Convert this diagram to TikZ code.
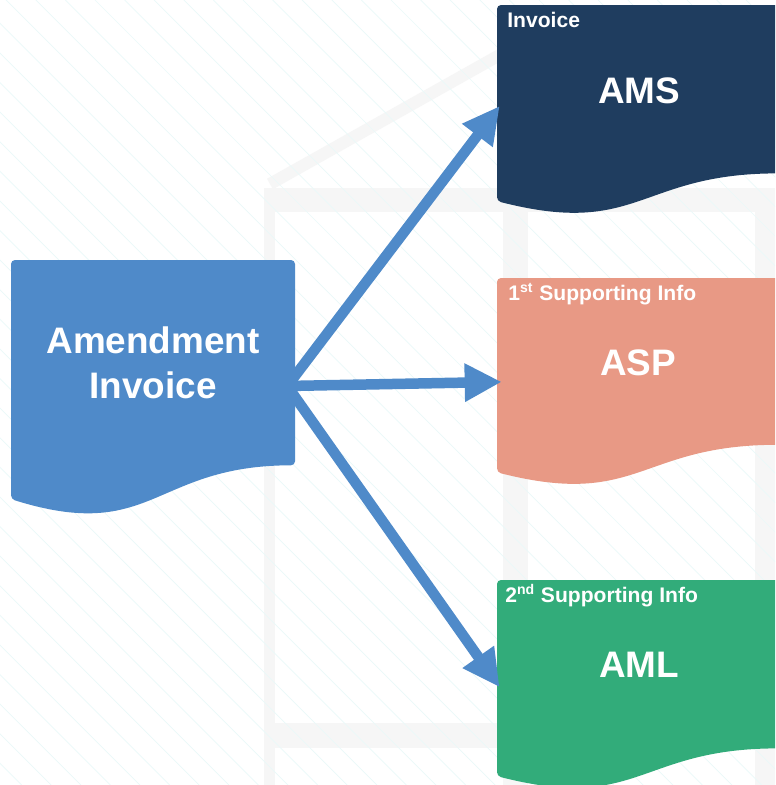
\documentclass[tikz,border=0pt]{standalone}
\usepackage{fontspec}
\setmainfont{Liberation Sans}
\usetikzlibrary{arrows.meta}
\usetikzlibrary{calc}

\definecolor{amendblue}{RGB}{79,138,201}
\definecolor{amsnavy}{RGB}{31,61,95}
\definecolor{aspsalmon}{RGB}{232,153,133}
\definecolor{amlgreen}{RGB}{50,172,122}
\definecolor{framegray}{RGB}{246,246,246}
\definecolor{hatchcyan}{RGB}{234,249,249}

\begin{document}
\begin{tikzpicture}[x=0.02cm,y=-0.02cm,
  flow/.style={line width=0.21cm,draw=amendblue,-{Triangle[length=0.74cm,width=0.72cm]},shorten >=-0.1cm},
  docbody/.style={rectangle,inner sep=0pt,minimum width=5.68cm},
  bigtext/.style={text=white,font=\bfseries\fontsize{21}{25.6}\selectfont,align=center,anchor=base,inner sep=0pt},
  tagtext/.style={text=white,font=\bfseries\fontsize{12}{14}\selectfont,anchor=base west,inner sep=0pt},
  hatch/.style={hatchcyan,line width=0.4pt}]
\fill[white] (0,0) rectangle (775,785);
\useasboundingbox (0,0) rectangle (775,785);
\clip (0,0) rectangle (775,785);

% house outline behind everything
\fill[framegray] (264,188) rectangle (775,785);
\fill[white] (275,212) rectangle (503,723);
\fill[white] (528,212) rectangle (755,723);
\fill[white] (275,748) rectangle (503,790);
\fill[white] (528,748) rectangle (755,790);
\draw[framegray,line width=0.24cm] (270,184) -- (505,52);

\foreach \k in {0,...,54}
  \draw[hatch] ({-793+29.6*\k},0) -- ++(785,785);

% documents
\fill[amendblue,rounded corners=0.08cm] (11,260) -- (295,260) -- (295,465.3) .. controls (153,465.3) and (153,543.5) .. (11,499.1) -- cycle;
\fill[amsnavy,rounded corners=0.08cm] (497,5) -- (781,5) -- (781,173.4) .. controls (639,173.4) and (639,237.6) .. (497,201.1) -- cycle;
\fill[aspsalmon,rounded corners=0.08cm] (497,278) -- (781,278) -- (781,444.8) .. controls (639,444.8) and (639,508.4) .. (497,472.3) -- cycle;
\fill[amlgreen,rounded corners=0.08cm] (497,580) -- (781,580) -- (781,748.4) .. controls (639,748.4) and (639,812.6) .. (497,776.1) -- cycle;

\node[docbody,minimum height=5.04cm] (amend) at (153,386) {};
\node[docbody,minimum height=4.1cm] (ams) at (639,110) {};
\node[docbody,minimum height=4.16cm] (asp) at (639,382) {};
\node[docbody,minimum height=4.06cm] (aml) at (639,683) {};

\node[bigtext] (amendlabel) at (153,398) {Amendment\\Invoice};
\node[bigtext] (amslabel) at (639,103) {AMS};
\node[bigtext] (asplabel) at (638,375) {ASP};
\node[bigtext] (amllabel) at (639,677) {AML};

\node[tagtext] (amstag) at (507,27) {Invoice};
\node[tagtext] (asptag) at (508,300) {1\textsuperscript{st} Supporting Info};
\node[tagtext] (amltag) at (505,602) {2\textsuperscript{nd} Supporting Info};

\draw[flow] ($(amend.east)+(-8,0)$) -- (ams.west);
\draw[flow] ($(amend.east)+(-8,0)$) -- (asp.west);
\draw[flow] ($(amend.east)+(-8,0)$) -- (aml.west);

\end{tikzpicture}
\end{document}
